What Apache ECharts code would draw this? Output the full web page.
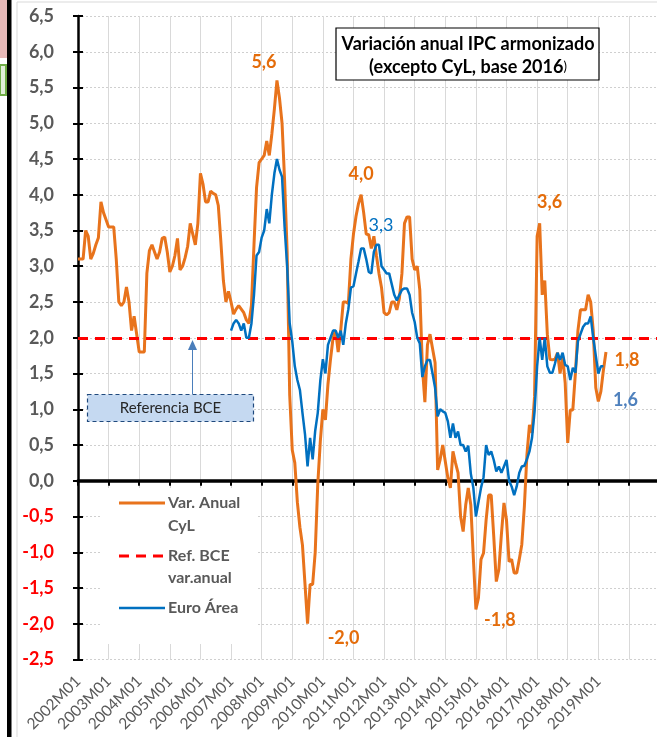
<!DOCTYPE html>
<html>
<head>
<meta charset="utf-8">
<script src="https://cdn.jsdelivr.net/npm/echarts@6/dist/echarts.min.js"></script>
<style>
html,body{margin:0;padding:0;background:#fff;}
#chart{width:657px;height:737px;}
</style>
</head>
<body>
<div id="chart"></div>
<script>
// ---- data ----
const years = [2002,2003,2004,2005,2006,2007,2008,2009,2010,2011,2012,2013,2014,2015,2016,2017,2018,2019,2020];
const months = ['01','02','03','04','05','06','07','08','09','10','11','12'];
const lastLabelYear = 2019;

// Var. anual IPC armonizado CyL (from 2002M01)
const cyl2002_2005 = [
  3.1,3.1,3.1,3.5,3.42,3.1,3.18,3.3,3.4,3.9,3.75,3.65,
  3.55,3.55,3.55,3.1,2.5,2.45,2.5,2.71,2.5,2.1,2.3,2.05,
  1.8,1.8,1.8,2.9,3.22,3.3,3.2,3.1,3.2,3.39,3.41,3.2,
  2.92,3.0,3.15,3.39,2.95,3.0,3.12,3.28,3.6,3.45,3.3,3.6
];
const cyl2006_2009 = [
  4.3,4.15,3.9,3.9,4.05,4.02,4.0,3.85,3.35,2.8,2.5,2.65,
  2.5,2.33,2.4,2.45,2.4,2.35,2.25,2.2,2.45,3.3,4.1,4.45,
  4.5,4.55,4.75,4.55,4.85,5.2,5.6,5.35,5.0,4.2,3.2,1.2,
  0.43,0.25,-0.3,-0.65,-0.9,-1.45,-2.0,-1.45,-1.45,-1.0,-0.05,0.55
];
const cyl2010_2013 = [
  1.0,0.85,1.35,1.7,2.0,2.1,1.8,2.1,2.5,2.5,2.48,3.1,
  3.45,3.7,3.88,4.0,3.75,3.45,3.44,3.25,3.42,3.15,2.9,2.7,
  2.35,2.32,2.35,2.5,2.5,2.39,2.55,2.9,3.6,3.69,3.69,3.1,
  2.95,3.0,2.67,1.6,1.1,1.9,2.05,1.85,1.65,0.15,0.3,0.5
];
const cyl2014_2019 = [
  0.27,0.04,-0.1,0.41,0.25,0.11,-0.5,-0.71,-0.34,-0.1,-0.34,-1.08,
  -1.8,-1.64,-1.1,-1.01,-0.55,-0.2,-0.2,-0.78,-1.41,-1.24,-0.75,-0.31,
  -0.55,-1.13,-1.1,-1.29,-1.29,-1.1,-0.89,-0.36,0.36,0.78,0.67,1.18,
  3.42,3.6,2.6,2.8,2.05,1.7,1.69,1.7,1.79,1.5,1.75,1.37,
  0.53,0.99,0.99,1.5,2.1,2.39,2.39,2.39,2.6,2.5,2.1,1.3,
  1.11,1.25,1.55,1.8
];

// Euro Área (from 2007M01)
const euroStart = '2007M01';
const euro2007_2010 = [
  2.1,2.2,2.25,2.2,2.1,2.2,2.0,2.0,2.2,2.6,3.15,3.2,
  3.4,3.5,3.8,3.6,4.0,4.3,4.5,4.35,4.25,3.55,3.0,2.2,
  1.95,1.6,1.41,1.27,0.95,0.65,0.2,0.6,0.3,0.7,0.95,1.4,
  1.7,1.5,1.9,2.0,2.1,2.1,2.0,2.1,1.9,2.2,2.4,2.7
];
const euro2011_2014 = [
  2.72,2.9,3.07,3.25,3.25,3.1,2.92,2.9,3.2,3.3,3.3,3.0,
  2.95,2.9,2.9,2.75,2.6,2.52,2.6,2.67,2.69,2.69,2.6,2.35,
  2.22,2.0,1.92,1.45,1.6,1.69,1.69,1.5,1.3,0.9,1.0,0.97,
  0.95,0.83,0.6,0.8,0.6,0.69,0.5,0.5,0.41,0.49,0.1,-0.1
];
const euro2015_2019 = [
  -0.5,-0.3,-0.1,0.05,0.5,0.36,0.41,0.29,0.13,0.2,0.11,0.2,
  0.29,0.0,-0.08,-0.2,-0.08,0.11,0.2,0.21,0.3,0.41,0.6,0.97,
  1.6,2.0,1.69,2.0,1.6,1.51,1.51,1.64,1.79,1.69,1.79,1.62,
  1.6,1.41,1.58,1.51,1.95,2.05,2.15,2.2,2.2,2.3,2.0,1.75,
  1.5,1.6,1.6
];

const refBCE = 2.0;
const yTicks = {min: -2.5, max: 6.5, step: 0.5};

// highlighted value labels
const cylLabels = [
  {cat:'2008M07', v:5.6, text:'5,6', off:[-13,-18]},
  {cat:'2011M04', v:4.0, text:'4,0', off:[0,-21]},
  {cat:'2017M02', v:3.6, text:'3,6', off:[10,-21]},
  {cat:'2019M04', v:1.8, text:'1,8', off:[21,8]},
  {cat:'2009M07', v:-2.0, text:'-2,0', off:[36,14]},
  {cat:'2015M01', v:-1.8, text:'-1,8', off:[24,11]}
];
const euroLabels = [
  {cat:'2011M11', v:3.3, text:'3,3', off:[2,-20], color:'#0070C0', weight:'normal'},
  {cat:'2019M03', v:1.6, text:'1,6', off:[22,34], color:'#4F81BD', weight:'bold'}
];

// ---- build ----
const categories = [];
years.forEach(y => months.forEach(m => categories.push(y + 'M' + m)));
const cyl = [].concat(cyl2002_2005, cyl2006_2009, cyl2010_2013, cyl2014_2019);
const euro = [].concat(euro2007_2010, euro2011_2014, euro2015_2019);
const e0 = categories.indexOf(euroStart);
const cylData = cyl.map((v, i) => [categories[i], v]);
const euroData = euro.map((v, i) => [categories[e0 + i], v]);

const FONT = 'Lato';
const ORANGE = '#E8731C';
const BLUE = '#0070C0';
const GRAY = '#595959';
const fmt = v => v.toFixed(1).replace('.', ',');
const isYearStart = (i) => i % 12 === 0;

const chart = echarts.init(document.getElementById('chart'), null, {renderer: 'canvas'});

const option = {
  animation: false,
  backgroundColor: '#fff',
  grid: {left: 78, top: 16, right: -3, bottom: 77.5, containLabel: false},
  xAxis: [
    {
      type: 'category', data: categories, boundaryGap: false,
      axisLine: {show: true, onZero: true, lineStyle: {color: '#000', width: 3.5}},
      axisTick: {show: true, interval: isYearStart, length: 5, lineStyle: {color: '#000', width: 2}},
      axisLabel: {show: false},
      splitLine: {show: true, interval: isYearStart, lineStyle: {color: '#d9d9d9', width: 1}}
    },
    {
      type: 'category', data: categories, boundaryGap: false, position: 'bottom',
      axisLine: {show: false, onZero: false},
      axisTick: {show: false},
      splitLine: {show: false},
      axisLabel: {
        show: true, rotate: 45, margin: 19,
        interval: (i, v) => isYearStart(i) && parseInt(v) <= lastLabelYear,
        color: GRAY, fontFamily: FONT, fontSize: 15.5
      }
    }
  ],
  yAxis: [
    {
      type: 'value', min: yTicks.min, max: yTicks.max, interval: yTicks.step,
      axisLine: {show: true, onZero: false, lineStyle: {color: '#000', width: 2.5}},
      axisTick: {show: true, inside: false, length: 5, lineStyle: {color: '#000', width: 2}},
      axisLabel: {
        margin: 24, formatter: fmt, fontFamily: FONT, fontWeight: 'bold', fontSize: 18,
        color: v => (parseFloat(v) < 0 ? '#FF0000' : GRAY)
      },
      splitLine: {show: true, lineStyle: {color: '#cfcfcf', type: [2, 2], width: 1}}
    },
    {
      type: 'value', min: yTicks.min, max: yTicks.max, interval: yTicks.step, position: 'left',
      axisLine: {show: false},
      axisTick: {show: true, inside: true, length: 5, lineStyle: {color: '#000', width: 2}},
      axisLabel: {show: false},
      splitLine: {show: false}
    }
  ],
  series: [
    {
      name: 'Var. Anual CyL', type: 'line', data: cylData, showSymbol: false, symbol: 'none',
      lineStyle: {color: ORANGE, width: 3}, itemStyle: {color: ORANGE}, z: 3,
      markPoint: {
        symbol: 'circle', symbolSize: 0, silent: true,
        data: cylLabels.map(d => ({
          coord: [d.cat, d.v], name: d.text,
          label: {show: true, formatter: '{b}', offset: d.off, color: '#E46C0A',
                  fontFamily: FONT, fontWeight: 'bold', fontSize: 18}
        }))
      }
    },
    {
      name: 'Ref. BCE var.anual', type: 'line', data: [], symbol: 'none', z: 4,
      lineStyle: {color: '#FF0000', width: 3, type: [10, 7]},
      markLine: {
        silent: true, symbol: 'none', label: {show: false},
        lineStyle: {color: '#FF0000', width: 3, type: [10, 7]},
        data: [{yAxis: refBCE}]
      }
    },
    {
      name: 'Euro Área', type: 'line', data: euroData, showSymbol: false, symbol: 'none',
      lineStyle: {color: BLUE, width: 2.5}, itemStyle: {color: BLUE}, z: 5,
      markPoint: {
        symbol: 'circle', symbolSize: 0, silent: true,
        data: euroLabels.map(d => ({
          coord: [d.cat, d.v], name: d.text,
          label: {show: true, formatter: '{b}', offset: d.off, color: d.color,
                  fontFamily: FONT, fontWeight: d.weight, fontSize: 18}
        }))
      }
    }
  ],
  graphic: [
    // spreadsheet surroundings
    {type: 'rect', shape: {x: 0, y: 0, width: 7, height: 58}, style: {fill: '#E6B8B7'}, z: 100},
    {type: 'rect', shape: {x: 0, y: 65, width: 6, height: 30}, style: {fill: '#E2EFDA', stroke: '#70AD47', lineWidth: 2}, z: 100},
    {type: 'rect', shape: {x: 7, y: 0, width: 4.5, height: 737}, style: {fill: '#000'}, z: 100},
    {type: 'line', shape: {x1: 17, y1: 2, x2: 17, y2: 737}, style: {stroke: '#d9d9d9', lineWidth: 1}, z: 100},
    {type: 'line', shape: {x1: 17, y1: 2, x2: 657, y2: 2}, style: {stroke: '#d9d9d9', lineWidth: 1}, z: 100},
    // title box
    {type: 'rect', shape: {x: 336, y: 28, width: 263, height: 52}, style: {fill: '#fff', stroke: '#000', lineWidth: 1.2}, z: 100},
    {type: 'text', x: 468, y: 44, z: 101, style: {text: 'Variación anual IPC armonizado', fill: '#000', font: 'bold 18px ' + FONT, textAlign: 'center', textVerticalAlign: 'middle'}},
    {type: 'text', x: 468, y: 67, z: 101, style: {text: '{b|(excepto CyL, base 2016}{s|)}', textAlign: 'center', textVerticalAlign: 'middle',
      rich: {b: {fill: '#000', font: 'bold 18px ' + FONT}, s: {fill: '#000', font: '13px ' + FONT}}}},
    // legend
    {type: 'rect', shape: {x: 100, y: 488, width: 157, height: 156}, style: {fill: '#fff'}, z: 90},
    {type: 'line', shape: {x1: 119, y1: 503, x2: 165, y2: 503}, style: {stroke: ORANGE, lineWidth: 3}, z: 91},
    {type: 'text', x: 168, y: 503, z: 91, style: {text: 'Var. Anual', fill: GRAY, font: 'bold 16px ' + FONT, textVerticalAlign: 'middle'}},
    {type: 'text', x: 168, y: 526, z: 91, style: {text: 'CyL', fill: GRAY, font: 'bold 16px ' + FONT, textVerticalAlign: 'middle'}},
    {type: 'line', shape: {x1: 119, y1: 556, x2: 165, y2: 556}, style: {stroke: '#FF0000', lineWidth: 3, lineDash: [10, 7]}, z: 91},
    {type: 'text', x: 168, y: 556, z: 91, style: {text: 'Ref. BCE', fill: GRAY, font: 'bold 16px ' + FONT, textVerticalAlign: 'middle'}},
    {type: 'text', x: 168, y: 578, z: 91, style: {text: 'var.anual', fill: GRAY, font: 'bold 16px ' + FONT, textVerticalAlign: 'middle'}},
    {type: 'line', shape: {x1: 119, y1: 608, x2: 165, y2: 608}, style: {stroke: BLUE, lineWidth: 2.5}, z: 91},
    {type: 'text', x: 168, y: 608, z: 91, style: {text: 'Euro Área', fill: GRAY, font: 'bold 16px ' + FONT, textVerticalAlign: 'middle'}},
    // Referencia BCE callout
    {type: 'line', shape: {x1: 192.5, y1: 394, x2: 192.5, y2: 348}, style: {stroke: '#4A7EBB', lineWidth: 1}, z: 95},
    {type: 'polygon', shape: {points: [[192.5, 340], [188, 350], [197, 350]]}, style: {fill: '#4A7EBB'}, z: 95},
    {type: 'rect', shape: {x: 87.5, y: 394.5, width: 166, height: 27}, style: {fill: '#C5D9F1', stroke: '#1F497D', lineWidth: 1.2, lineDash: [4, 3]}, z: 96},
    {type: 'text', x: 170.5, y: 408, z: 97, style: {text: 'Referencia BCE', fill: '#262626', font: '15px ' + FONT, textAlign: 'center', textVerticalAlign: 'middle'}}
  ]
};
chart.setOption(option);
</script>
</body>
</html>
